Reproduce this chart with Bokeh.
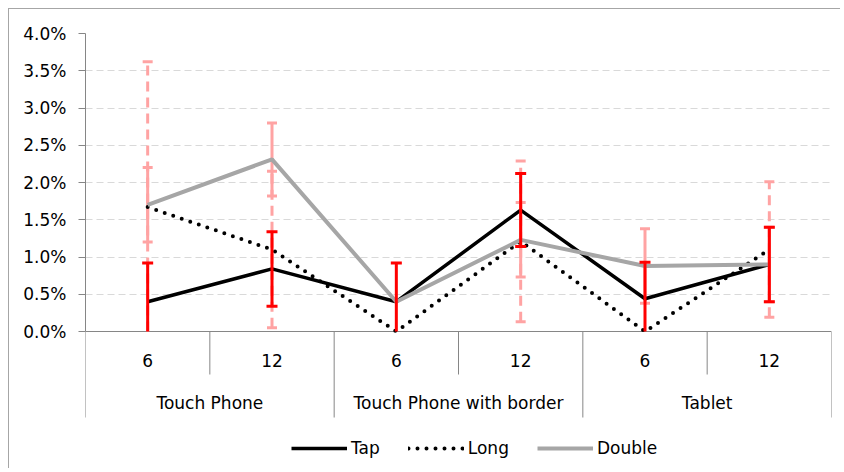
import numpy as np
from bokeh.plotting import figure
from bokeh.models import Range1d, FixedTicker, NumeralTickFormatter, Legend, LegendItem
from bokeh.core.properties import value
from bokeh.embed import file_html
from bokeh.resources import INLINE

# ---- data (fractions) ----
groups = ["Touch Phone", "Touch Phone with border", "Tablet"]
sizes = ["6", "12"]
tap = [0.0040, 0.0084, 0.0040, 0.0163, 0.0044, 0.0090]
tap_err = [0.0052, 0.0050, 0.0052, 0.0049, 0.0049, 0.0050]
long_ = [0.0167, 0.0110, 0.0000, 0.0121, 0.0000, 0.0110]
long_err = [0.0195, 0.0105, 0.0000, 0.0108, 0.0000, 0.0091]
double = [0.0170, 0.0231, 0.0040, 0.0123, 0.0088, 0.0090]
double_err = [0.0050, 0.0049, 0.0000, 0.0050, 0.0050, 0.0050]
yticks = [0.0, 0.005, 0.01, 0.015, 0.02, 0.025, 0.03, 0.035, 0.04]

FONT = "DejaVu Sans"
FS = "17px"
AX = "#868686"

ncat = len(groups) * len(sizes)
xc = np.arange(ncat) + 0.5
PX_PER_UNIT = 298 / 0.04  # vertical pixels per data unit
y_bot = -(464 - 331) / PX_PER_UNIT

p = figure(width=840, height=468, x_range=Range1d(0, ncat), y_range=Range1d(y_bot, yticks[-1]),
           output_backend="svg", toolbar_location=None, x_axis_location=None,
           min_border_left=84, min_border_right=10, min_border_top=32, min_border_bottom=5,
           outline_line_color=None, border_fill_color=None, background_fill_color="white")
p.stylesheets = [":host { border-top: 1px solid transparent; border-left: 1px solid transparent; "
                 "background: linear-gradient(#a6a6a6,#a6a6a6) 7px 7px / 100% 1px no-repeat, "
                 "linear-gradient(#a6a6a6,#a6a6a6) 7px 7px / 1px 100% no-repeat, white; }"]

for g in p.xgrid:
    g.visible = False
ticker = FixedTicker(ticks=yticks, minor_ticks=[])
ax = p.yaxis[0]
ax.ticker = ticker
ax.formatter = NumeralTickFormatter(format="0.0%")
ax.bounds = (yticks[0], yticks[-1])
ax.axis_line_color = AX
ax.major_tick_line_color = AX
ax.minor_tick_line_color = None
ax.major_tick_in = 0
ax.major_tick_out = 7
ax.major_label_standoff = 12
ax.major_label_text_font = FONT
ax.major_label_text_font_size = FS
ax.major_label_text_color = "#000000"
p.ygrid.ticker = ticker
p.ygrid.grid_line_color = "#d9d9d9"
p.ygrid.grid_line_dash = "7 4"

# category axis (manual, in data space below zero)
sub_y = -(360 - 331) / PX_PER_UNIT
grp_y = -(402 - 331) / PX_PER_UNIT
inner_bot = -(374 - 331) / PX_PER_UNIT
outer_bot = -(417 - 331) / PX_PER_UNIT
p.segment(x0=[0], y0=[0], x1=[ncat], y1=[0], line_color=AX, line_width=1)
bounds = np.arange(ncat + 1)
is_grp = (bounds % len(sizes)) == 0
p.segment(x0=bounds, y0=np.zeros(ncat + 1), x1=bounds,
          y1=np.where(is_grp, outer_bot, inner_bot), line_color=AX, line_width=1)
p.text(x=xc, y=[sub_y] * ncat, text=sizes * len(groups), text_align="center", text_baseline="middle",
       text_font=value(FONT), text_font_size=FS, text_color="#000000")
gx = np.arange(len(groups)) * len(sizes) + len(sizes) / 2
p.text(x=gx, y=[grp_y] * len(groups), text=groups, text_align="center", text_baseline="middle",
       text_font=value(FONT), text_font_size=FS, text_color="#000000")


def errbars(vals, errs, color, dash, width, cap):
    v = np.array(vals); e = np.array(errs)
    m = e > 0
    lo = np.maximum(v - e, 0)
    hi = v + e
    p.segment(x0=xc[m], y0=lo[m], x1=xc[m], y1=hi[m], line_color=color, line_width=width, line_dash=dash)
    p.scatter(x=xc[m], y=hi[m], marker="dash", size=cap, line_color=color, line_width=width)
    ml = m & ((v - e) >= 0)
    p.scatter(x=xc[ml], y=lo[ml], marker="dash", size=cap, line_color=color, line_width=width)


PINK = "#ffa3a3"
errbars(long_, long_err, PINK, "10 6", 3, 10)
errbars(double, double_err, PINK, "solid", 3, 10)

r_tap = p.line(xc, tap, line_color="black", line_width=3.5)
r_long = p.line(xc, long_, line_color="black", line_width=4, line_dash="0 9", line_cap="round")
r_double = p.line(xc, double, line_color="#a6a6a6", line_width=4)

errbars(tap, tap_err, "#ff0000", "solid", 3, 11)

legend = Legend(items=[LegendItem(label="Tap", renderers=[r_tap]),
                       LegendItem(label="Long", renderers=[r_long]),
                       LegendItem(label="Double", renderers=[r_double])],
                orientation="horizontal", location=(206, 6), padding=0, margin=0,
                glyph_width=56, glyph_height=20, label_height=20, label_standoff=4, spacing=28,
                label_text_font=FONT, label_text_font_size=FS, label_text_color="#000000",
                border_line_color=None, background_fill_alpha=0)
p.add_layout(legend)

open("out.html", "w").write(file_html(p, INLINE))
